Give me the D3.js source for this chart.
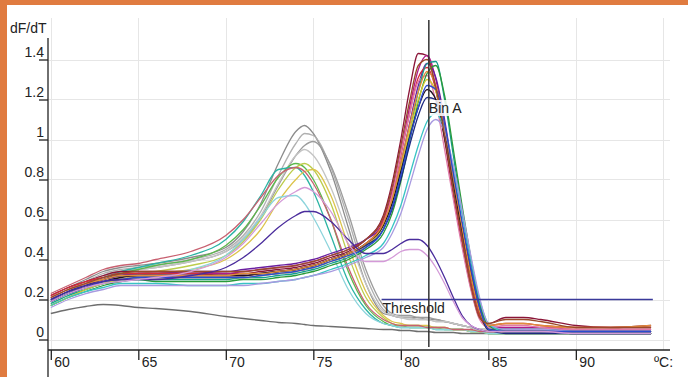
<!DOCTYPE html>
<html>
<head>
<meta charset="utf-8">
<script src="https://cdn.jsdelivr.net/npm/d3@7"></script>
<style>
  html, body { margin: 0; padding: 0; background: #fff; }
  svg { display: block; font-family: "Liberation Sans", Arial, sans-serif; }
  .grid line { stroke: #e6e6e6; stroke-width: 1; }
  .axis text { font-size: 14px; fill: #222; }
  .axis line { stroke: #222; stroke-width: 1.3; }
  .curve { fill: none; stroke-width: 1.3; }
</style>
</head>
<body>
<div id="chart"></div>
<script>
// temperature grid (°C) shared by every curve
const temps = [60, 61, 62, 63, 64, 65, 66, 68, 70, 71, 72, 73, 74, 74.5, 75, 76, 77, 78, 79, 79.5,
  80, 80.5, 81, 81.5, 82, 82.5, 83, 83.5, 84, 84.5, 85, 86, 87, 88, 90, 92, 94.3];

// samples melting around 81.5 °C
const mainPeakCurves = [
  [0.22,0.26,0.29,0.32,0.34,0.34,0.34, 0.34,0.33,0.33,0.34,0.35,0.36, 0.37,0.38,0.41,0.44,0.50,0.62, 0.78,1.00,1.25,1.43,1.42,1.25, 1.00,0.72,0.48,0.26,0.11,0.08, 0.11,0.11,0.10,0.07,0.06,0.07],
  [0.21,0.25,0.28,0.30,0.32,0.33,0.33, 0.33,0.33,0.34,0.35,0.36,0.37, 0.38,0.39,0.42,0.45,0.50,0.60, 0.74,0.94,1.16,1.35,1.42,1.30, 1.06,0.78,0.52,0.29,0.12,0.06, 0.06,0.06,0.06,0.05,0.05,0.05],
  [0.20,0.24,0.27,0.30,0.32,0.33,0.33, 0.34,0.34,0.35,0.36,0.37,0.38, 0.39,0.40,0.43,0.46,0.50,0.58, 0.70,0.88,1.08,1.27,1.38,1.31, 1.10,0.83,0.57,0.33,0.14,0.05, 0.05,0.05,0.05,0.04,0.04,0.04],
  [0.22,0.26,0.29,0.31,0.33,0.33,0.33, 0.33,0.32,0.32,0.33,0.34,0.35, 0.36,0.37,0.40,0.43,0.48,0.59, 0.72,0.92,1.13,1.31,1.36,1.25, 1.02,0.75,0.50,0.28,0.12,0.07, 0.08,0.08,0.07,0.06,0.06,0.06],
  [0.19,0.23,0.26,0.28,0.30,0.31,0.31, 0.31,0.31,0.31,0.32,0.33,0.34, 0.35,0.36,0.39,0.42,0.47,0.58, 0.72,0.93,1.13,1.29,1.32,1.19, 0.95,0.70,0.46,0.25,0.10,0.06, 0.07,0.07,0.06,0.05,0.05,0.05],
  [0.18,0.22,0.25,0.28,0.29,0.30,0.30, 0.30,0.30,0.31,0.31,0.32,0.33, 0.34,0.35,0.38,0.41,0.46,0.55, 0.66,0.83,1.03,1.24,1.38,1.39, 1.20,0.92,0.64,0.39,0.18,0.07, 0.05,0.05,0.05,0.04,0.04,0.04],
  [0.17,0.21,0.24,0.27,0.29,0.30,0.29, 0.29,0.29,0.30,0.30,0.31,0.32, 0.33,0.34,0.37,0.40,0.45,0.53, 0.63,0.79,0.99,1.19,1.33,1.37, 1.22,0.95,0.67,0.41,0.19,0.07, 0.04,0.04,0.04,0.03,0.03,0.03],
  [0.17,0.21,0.25,0.28,0.30,0.31,0.31, 0.31,0.31,0.31,0.32,0.33,0.34, 0.35,0.36,0.39,0.42,0.47,0.57, 0.69,0.86,1.04,1.20,1.30,1.24, 1.04,0.79,0.55,0.32,0.14,0.05, 0.04,0.04,0.04,0.03,0.03,0.03],
  [0.20,0.24,0.27,0.30,0.32,0.32,0.32, 0.32,0.32,0.32,0.33,0.34,0.35, 0.36,0.37,0.40,0.43,0.47,0.55, 0.65,0.80,0.97,1.12,1.21,1.20, 1.04,0.80,0.57,0.35,0.16,0.05, 0.03,0.03,0.03,0.03,0.03,0.03],
  [0.19,0.23,0.26,0.29,0.31,0.32,0.32, 0.32,0.32,0.32,0.33,0.34,0.35, 0.36,0.37,0.40,0.43,0.48,0.57, 0.68,0.84,1.01,1.16,1.25,1.20, 1.01,0.77,0.54,0.32,0.14,0.05, 0.04,0.04,0.04,0.03,0.03,0.03],
  [0.17,0.21,0.24,0.26,0.28,0.28,0.28, 0.27,0.27,0.28,0.28,0.29,0.30, 0.31,0.32,0.35,0.38,0.42,0.48, 0.56,0.67,0.82,0.97,1.09,1.13, 1.05,0.86,0.63,0.40,0.20,0.08, 0.04,0.04,0.04,0.03,0.03,0.03],
  [0.16,0.20,0.23,0.25,0.27,0.27,0.27, 0.27,0.27,0.27,0.28,0.29,0.30, 0.31,0.32,0.34,0.37,0.41,0.46, 0.53,0.63,0.77,0.92,1.05,1.10, 1.04,0.87,0.65,0.42,0.21,0.08, 0.05,0.05,0.05,0.04,0.04,0.04],
  [0.21,0.25,0.28,0.30,0.32,0.32,0.32, 0.32,0.32,0.33,0.33,0.34,0.35, 0.36,0.37,0.40,0.43,0.48,0.58, 0.70,0.88,1.07,1.24,1.34,1.27, 1.07,0.81,0.56,0.32,0.14,0.07, 0.08,0.08,0.07,0.06,0.06,0.07],
  [0.19,0.23,0.26,0.29,0.30,0.31,0.31, 0.31,0.31,0.31,0.32,0.33,0.34, 0.35,0.36,0.39,0.42,0.46,0.55, 0.66,0.82,1.00,1.16,1.27,1.25, 1.08,0.83,0.59,0.36,0.16,0.05, 0.04,0.04,0.04,0.04,0.04,0.04],
  [0.21,0.25,0.28,0.31,0.33,0.34,0.34, 0.34,0.34,0.34,0.35,0.36,0.37, 0.38,0.39,0.42,0.45,0.50,0.61, 0.76,0.97,1.19,1.37,1.40,1.26, 1.02,0.75,0.50,0.27,0.11,0.08, 0.10,0.10,0.09,0.06,0.06,0.06]
];
const mainPeakColors = ["#8b1538", "#b01a8a", "#6a1fa0", "#d42a3a", "#e07aa8", "#139e8e", "#2a9a3a", "#d4c830",
  "#1e2a80", "#201020", "#38c4c4", "#a89ae0", "#e08c3c", "#2c4ad0", "#9a4a2a"];

// samples melting around 74.5 °C
const earlyPeakCurves = [
  [0.22,0.26,0.30,0.34,0.36,0.37,0.38, 0.41,0.46,0.54,0.68,0.88,1.04, 1.07,1.03,0.84,0.56,0.28,0.13, 0.12,0.11,0.11,0.11,0.10,0.10, 0.09,0.08,0.07,0.06,0.05,0.05, 0.05,0.05,0.05,0.04,0.04,0.04],
  [0.21,0.25,0.29,0.33,0.35,0.36,0.37, 0.40,0.45,0.52,0.64,0.82,0.98, 1.03,1.02,0.86,0.60,0.32,0.15, 0.12,0.11,0.11,0.10,0.10,0.09, 0.09,0.08,0.07,0.06,0.05,0.05, 0.04,0.04,0.04,0.04,0.04,0.04],
  [0.20,0.24,0.28,0.32,0.34,0.35,0.36, 0.39,0.44,0.50,0.61,0.77,0.92, 0.97,0.99,0.87,0.63,0.35,0.17, 0.13,0.12,0.12,0.11,0.11,0.10, 0.09,0.08,0.07,0.06,0.05,0.05, 0.05,0.05,0.04,0.04,0.04,0.04],
  [0.21,0.25,0.29,0.32,0.34,0.35,0.36, 0.39,0.44,0.51,0.62,0.78,0.92, 0.95,0.92,0.76,0.52,0.28,0.14, 0.12,0.11,0.10,0.10,0.10,0.09, 0.09,0.08,0.07,0.06,0.05,0.05, 0.04,0.04,0.04,0.04,0.04,0.04],
  [0.19,0.23,0.27,0.30,0.33,0.35,0.37, 0.40,0.47,0.55,0.67,0.81,0.88, 0.86,0.80,0.60,0.34,0.17,0.09, 0.07,0.07,0.06,0.06,0.06,0.06, 0.05,0.05,0.05,0.04,0.04,0.03, 0.03,0.03,0.03,0.03,0.03,0.03],
  [0.20,0.24,0.28,0.31,0.34,0.36,0.38, 0.42,0.50,0.59,0.72,0.85,0.86, 0.82,0.74,0.52,0.29,0.15,0.08, 0.07,0.06,0.06,0.06,0.06,0.05, 0.05,0.05,0.05,0.04,0.04,0.03, 0.03,0.03,0.03,0.03,0.03,0.03],
  [0.18,0.22,0.26,0.29,0.31,0.33,0.34, 0.37,0.42,0.49,0.60,0.75,0.86, 0.88,0.85,0.68,0.42,0.21,0.11, 0.08,0.07,0.07,0.07,0.06,0.06, 0.06,0.05,0.05,0.04,0.04,0.03, 0.03,0.03,0.03,0.03,0.03,0.03],
  [0.17,0.21,0.25,0.28,0.30,0.32,0.33, 0.35,0.40,0.46,0.55,0.69,0.80, 0.84,0.85,0.72,0.47,0.24,0.12, 0.09,0.08,0.07,0.07,0.07,0.06, 0.06,0.05,0.05,0.04,0.04,0.04, 0.03,0.03,0.03,0.03,0.03,0.03],
  [0.18,0.22,0.25,0.28,0.30,0.31,0.32, 0.35,0.42,0.50,0.61,0.71,0.72, 0.68,0.61,0.44,0.25,0.13,0.08, 0.07,0.06,0.06,0.06,0.06,0.05, 0.05,0.05,0.05,0.04,0.04,0.03, 0.03,0.03,0.03,0.03,0.03,0.03],
  [0.23,0.27,0.31,0.35,0.37,0.38,0.40, 0.44,0.52,0.60,0.71,0.82,0.86, 0.84,0.78,0.60,0.36,0.18,0.10, 0.08,0.07,0.07,0.07,0.06,0.06, 0.06,0.05,0.05,0.05,0.04,0.04, 0.04,0.04,0.04,0.04,0.04,0.04]
];
const earlyPeakColors = ["#8c8c8c", "#b0b0b0", "#9c9c9c", "#c4c4c4", "#5cb84c", "#2cb4a4", "#bccc4c", "#dcc44c", "#8cd4dc", "#c86070"];

// samples with two melting peaks
const doublePeakCurves = [
  [0.20,0.24,0.27,0.29,0.30,0.30,0.30, 0.32,0.36,0.41,0.48,0.56,0.62, 0.64,0.64,0.59,0.50,0.43,0.43, 0.45,0.48,0.50,0.50,0.47,0.40, 0.31,0.21,0.12,0.07,0.05,0.04, 0.04,0.04,0.04,0.03,0.03,0.03],
  [0.19,0.23,0.26,0.28,0.29,0.30,0.31, 0.34,0.41,0.48,0.58,0.68,0.74, 0.76,0.74,0.64,0.48,0.39,0.39, 0.41,0.44,0.45,0.45,0.42,0.36, 0.28,0.19,0.11,0.07,0.05,0.04, 0.04,0.04,0.04,0.03,0.03,0.03]
];
const doublePeakColors = ["#4a2c9c", "#d49ad8"];

// no-template control
const controlCurve = [0.13,0.15,0.165,0.175,0.17,0.16,0.155, 0.14,0.115,0.105,0.095,0.085,0.08,
  0.075,0.07,0.065,0.06,0.055,0.05, 0.05,0.045,0.045,0.04,0.04,0.035, 0.035,0.035,0.03,0.03,0.03,0.03,
  0.03,0.03,0.03,0.03,0.03,0.03];
const controlColor = "#6e6e6e";

const xTicks = [60, 65, 70, 75, 80, 85, 90, 95];
const yTicks = [0, 0.2, 0.4, 0.6, 0.8, 1, 1.2, 1.4];
const thresholdValue = 0.2;
const thresholdFrom = 78.9, thresholdTo = 94.4;
const binTemp = 81.6;

const width = 688, height = 377;

const svg = d3.select("#chart").append("svg").attr("width", width).attr("height", height);

// orange frame
svg.append("rect").attr("x", 0).attr("y", 0).attr("width", width).attr("height", 5).attr("fill", "#e07b40");
svg.append("rect").attr("x", 0).attr("y", 0).attr("width", 7).attr("height", height).attr("fill", "#e07b40");

const x = d3.scaleLinear().domain([59.84, 95.38]).range([48, 670]);
const y = d3.scaleLinear().domain([-0.0525, 1.6075]).range([350, 18]);

// grid
const grid = svg.append("g").attr("class", "grid");
grid.selectAll(".h").data(yTicks).enter().append("line")
  .attr("x1", 48).attr("x2", 670)
  .attr("y1", (d) => Math.round(y(d)) + 0.5).attr("y2", (d) => Math.round(y(d)) + 0.5);
grid.selectAll(".v").data(xTicks).enter().append("line")
  .attr("y1", 18).attr("y2", 350)
  .attr("x1", (d) => Math.round(x(d)) + 0.5).attr("x2", (d) => Math.round(x(d)) + 0.5);

// curves
const line = d3.line()
  .x((d) => x(d[0]))
  .y((d) => y(d[1]))
  .curve(d3.curveMonotoneX);

function drawCurves(list, colors) {
  svg.append("g").selectAll("path").data(list).enter().append("path")
    .attr("class", "curve")
    .attr("stroke", (d, i) => colors[i])
    .attr("d", (d) => line(d.map((v, i) => [temps[i], v])));
}

drawCurves([controlCurve], [controlColor]);
drawCurves(earlyPeakCurves, earlyPeakColors);
drawCurves(mainPeakCurves, mainPeakColors);
drawCurves(doublePeakCurves, doublePeakColors);

// threshold
svg.append("line")
  .attr("x1", x(thresholdFrom)).attr("x2", x(thresholdTo))
  .attr("y1", y(thresholdValue)).attr("y2", y(thresholdValue))
  .attr("stroke", "#3a3a9a").attr("stroke-width", 1.3);
svg.append("text")
  .attr("x", x(thresholdFrom) + 1).attr("y", y(thresholdValue) + 13)
  .attr("font-size", 14).attr("fill", "#222").text("Threshold");

// bin marker
svg.append("line")
  .attr("x1", x(binTemp)).attr("x2", x(binTemp))
  .attr("y1", 20).attr("y2", 347)
  .attr("stroke", "#333").attr("stroke-width", 1.5);
svg.append("rect")
  .attr("x", x(binTemp) + 1).attr("y", 100).attr("width", 33).attr("height", 16)
  .attr("fill", "#fff").attr("opacity", 0.85);
svg.append("text")
  .attr("x", x(binTemp)).attr("y", 113)
  .attr("font-size", 14).attr("fill", "#222").text("Bin A");

// axes
const yAxis = svg.append("g").attr("class", "axis").attr("transform", "translate(48,0)")
  .call(d3.axisLeft(y).tickValues(yTicks).tickSize(9).tickFormat((d) => String(+d.toFixed(1))));
yAxis.select(".domain").remove();
yAxis.selectAll("text").attr("x", -4).attr("dy", -3);

const xAxis = svg.append("g").attr("class", "axis").attr("transform", "translate(0,350)")
  .call(d3.axisBottom(x).tickValues(xTicks.slice(0, -1)).tickSize(10).tickFormat(d3.format("d")));
xAxis.select(".domain").remove();
xAxis.selectAll("text").attr("text-anchor", "start").attr("x", 3).attr("dy", 0).attr("y", 17);

svg.append("line").attr("x1", 48).attr("x2", 48).attr("y1", 38).attr("y2", height)
  .attr("stroke", "#222").attr("stroke-width", 1.3);
svg.append("line").attr("x1", 48).attr("x2", 670).attr("y1", 350).attr("y2", 350)
  .attr("stroke", "#222").attr("stroke-width", 1.3);

svg.append("text").attr("x", 10).attr("y", 33).attr("font-size", 14).attr("fill", "#222").text("dF/dT");
svg.append("text").attr("x", 654).attr("y", 367).attr("font-size", 14).attr("fill", "#222").text("ºC:");
</script>
</body>
</html>
